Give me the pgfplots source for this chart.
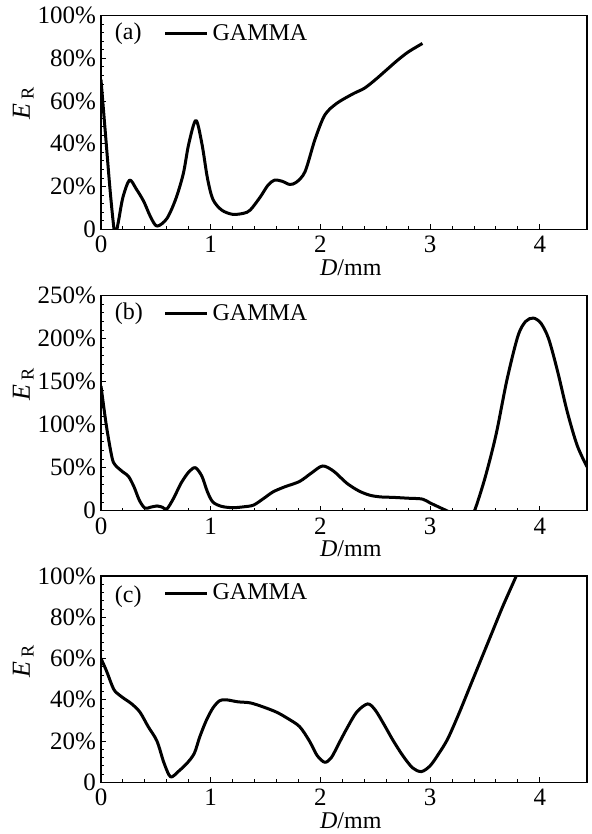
\documentclass[border=0pt]{standalone}
\usepackage{fontspec}
\setmainfont{Liberation Serif}
\usepackage{pgfplots}
\pgfplotsset{compat=1.18}
\pgfplotsset{
  panel/.style={
    scale only axis, width=243pt,
    xmin=0, xmax=4.43, ymin=0,
    xtick={0,1,2,3,4}, xticklabels={0,1,2,3,4},
    minor x tick num=4, minor y tick num=4,
    tick align=inside, xtick pos=bottom, ytick pos=left,
    major tick length=2.5pt, minor tick length=1.5pt,
    axis line style={line width=0.6pt},
    every tick/.style={black, line width=0.5pt},
    tick label style={font=\fontsize{12.5}{14}\selectfont},
    yticklabel style={xshift=1pt},
    /pgf/number format/assume math mode=true,
    xlabel={\textit{D}/mm},
    xlabel style={at={(axis description cs:0.514,0)}, anchor=center, yshift=-19pt, font=\fontsize{12}{14}\selectfont},
    ylabel={\textit{E}\,\textsubscript{R}},
    ylabel style={at={(axis description cs:-0.16,0.59)}, anchor=center, font=\fontsize{13}{15}\selectfont},
    legend style={draw=none, fill=none, at={(rel axis cs:0.128,0.915)}, anchor=west, inner sep=0pt, font=\fontsize{12}{14}\selectfont},
    legend cell align=left,
    legend image code/.code={\draw[#1] (0pt,0pt) -- (21pt,0pt);},
    every axis plot/.append style={line width=1.5pt, black, line join=round},
  }
}
\begin{document}
\begin{tikzpicture}
\path[use as bounding box] (0,0) rectangle (295.5pt,417pt);
% ---------- (a)
\begin{axis}[panel, at={(50.5pt,302.35pt)}, anchor=south west, height=106.8pt,
  ymax=100, ytick={0,20,40,60,80,100}, yticklabels={0,20\%,40\%,60\%,80\%,100\%}]
\addplot[smooth] coordinates {
(0,70)(0.04,45)(0.08,20)(0.11,4)(0.13,-3)(0.16,4)(0.2,15)(0.26,23)(0.32,19)(0.39,13)(0.45,6)(0.51,1.5)(0.6,5)(0.68,14)(0.75,26)(0.8,40)(0.865,51)(0.92,40)(0.97,24)(1.02,14)(1.1,9)(1.2,7)(1.3,7.5)(1.36,9)(1.45,15)(1.52,20.5)(1.58,23)(1.65,22.5)(1.72,21)(1.78,22)(1.86,27)(1.95,42)(2.04,53.5)(2.15,59)(2.3,63.5)(2.4,66)(2.5,70)(2.6,74.5)(2.7,79)(2.8,83)(2.93,87)
};
\addlegendentry{GAMMA}
\node[anchor=west, font=\fontsize{12}{14}\selectfont] at (rel axis cs:0.014,0.915) {(a)};
\end{axis}
% ---------- (b)
\begin{axis}[panel, at={(50.5pt,161.65pt)}, anchor=south west, height=107.5pt,
  ymax=250, ytick={0,50,100,150,200,250}, yticklabels={0,50\%,100\%,150\%,200\%,250\%}]
\addplot[smooth] coordinates {
(0,145)(0.05,98)(0.1,62)(0.13,53)(0.2,45)(0.25,40)(0.3,28)(0.35,12)(0.4,3)(0.45,4)(0.51,5.5)(0.56,4)(0.6,2)(0.66,14)(0.73,32)(0.8,45)(0.86,50)(0.92,40)(0.97,22)(1.02,10)(1.1,5)(1.2,3.5)(1.3,4.5)(1.39,6.5)(1.48,14)(1.57,22)(1.68,28)(1.81,34)(1.92,44)(2.02,52)(2.12,46)(2.24,32)(2.35,23)(2.45,18)(2.55,16)(2.66,15.5)(2.8,14.5)(2.93,13.5)(3.0,9)(3.1,3)(3.18,-2)(3.25,-10)(3.3,-14)(3.36,-8)(3.405,0)(3.5,38)(3.6,88)(3.7,152)(3.8,203)(3.87,220)(3.94,224)(4.01,218)(4.08,200)(4.16,163)(4.25,115)(4.34,76)(4.43,51)
};
\addlegendentry{GAMMA}
\node[anchor=west, font=\fontsize{12}{14}\selectfont] at (rel axis cs:0.014,0.915) {(b)};
\end{axis}
% ---------- (c)
\begin{axis}[panel, at={(50.5pt,25.85pt)}, anchor=south west, height=103.15pt,
  ymax=100, ytick={0,20,40,60,80,100}, yticklabels={0,20\%,40\%,60\%,80\%,100\%}]
\addplot[smooth] coordinates {
(0,60)(0.05,54)(0.1,47)(0.13,44)(0.2,41)(0.28,38)(0.355,34)(0.43,27)(0.51,20)(0.57,10)(0.62,3.5)(0.65,2.7)(0.7,5)(0.78,9)(0.85,14)(0.9,22)(0.96,30)(1.02,36)(1.08,39.5)(1.14,40)(1.25,39)(1.36,38.5)(1.48,36.5)(1.6,34)(1.7,31)(1.81,27)(1.9,20)(1.97,13)(2.04,9.7)(2.1,12)(2.17,19)(2.24,26)(2.33,34)(2.43,38)(2.5,35)(2.58,28)(2.66,20.5)(2.75,13)(2.84,7)(2.92,5.2)(3.0,8)(3.08,14)(3.16,21)(3.26,33)(3.36,46)(3.46,59)(3.56,72)(3.66,85)(3.76,97)(3.86,109)
};
\addlegendentry{GAMMA}
\node[anchor=west, font=\fontsize{12}{14}\selectfont] at (rel axis cs:0.014,0.9) {(c)};
\end{axis}
\end{tikzpicture}
\end{document}
